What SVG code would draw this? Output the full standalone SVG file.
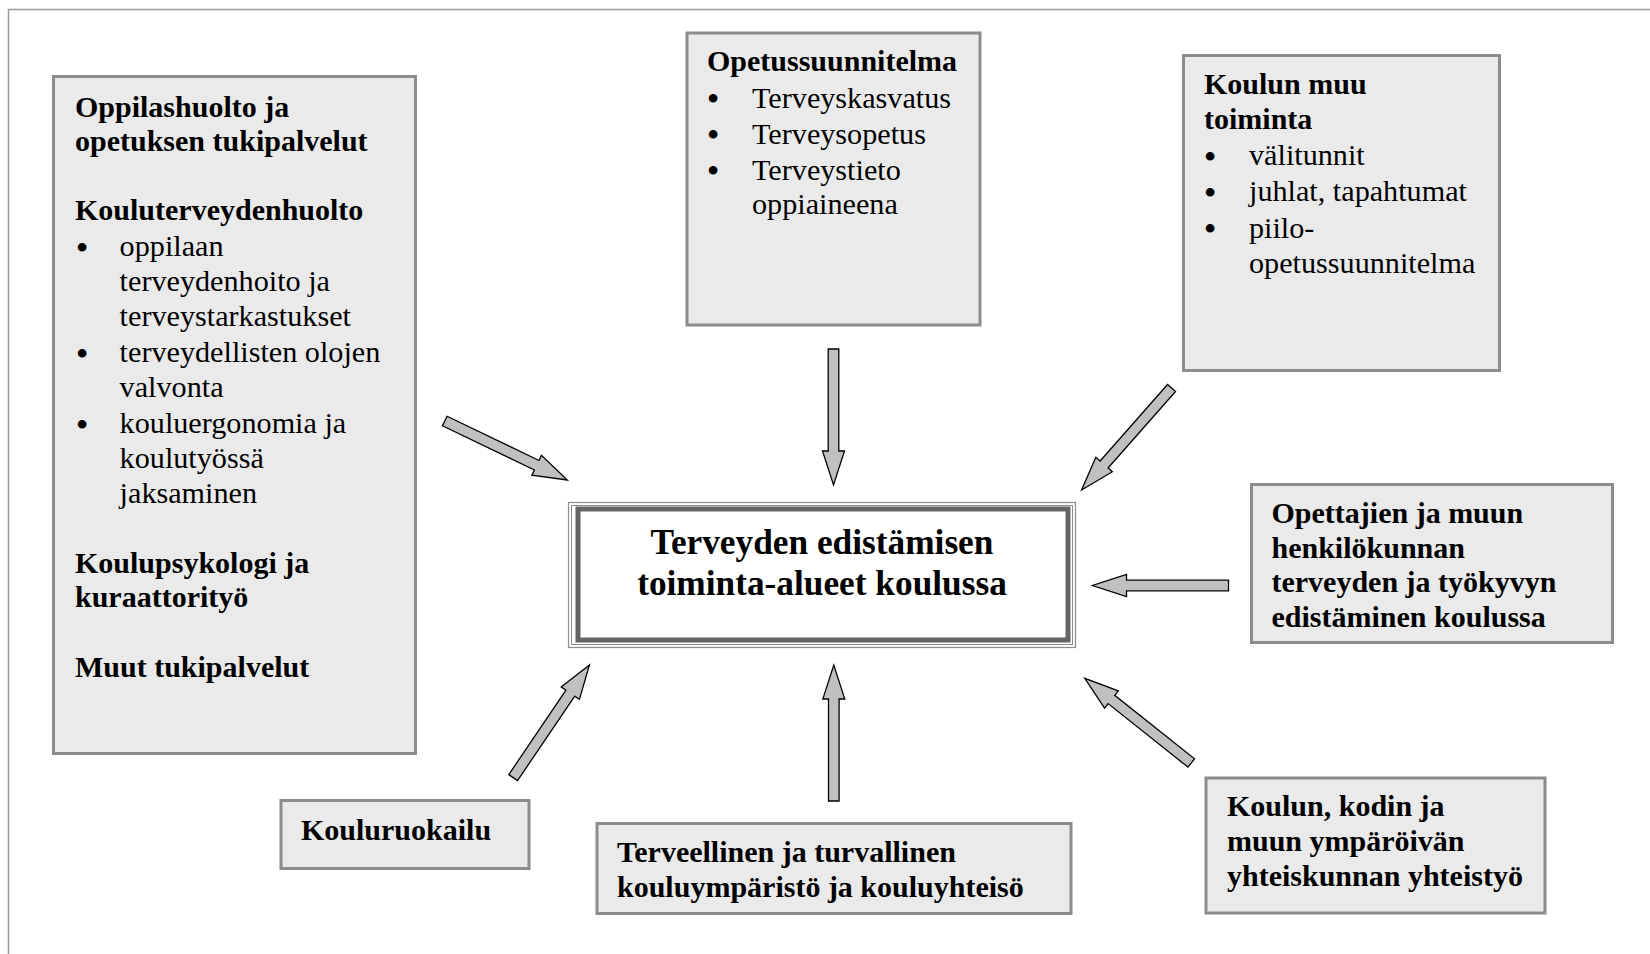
<svg xmlns="http://www.w3.org/2000/svg" xmlns:xlink="http://www.w3.org/1999/xlink" width="1650" height="954" viewBox="0 0 1650 954">
<style>
.box{fill:#eaeaea;stroke:#8c8c8c;stroke-width:3}
.t{font-family:"Liberation Serif","Times New Roman",serif;font-size:30.2px;fill:#000}
.b{font-weight:bold;font-size:30px}
.title{font-family:"Liberation Serif","Times New Roman",serif;font-size:35.3px;font-weight:bold;fill:#000;text-anchor:middle}
.bul{font-size:32px;font-weight:bold;text-anchor:middle}
.arr{fill:#c0c0c0;stroke:#000;stroke-width:1.3;stroke-linejoin:miter}
</style>
<defs>
<polygon id="arrow" class="arr" points="-136,-5.3 -34,-5.3 -34,-11 0,0 -34,11 -34,5.3 -136,5.3"/>
</defs>
<rect width="1650" height="954" fill="#fff"/>
<rect x="8.5" y="9.5" width="1700" height="1000" fill="none" stroke="#9a9a9a" stroke-width="1.5"/>

<g id="connectors">
<use xlink:href="#arrow" href="#arrow" transform="translate(567.3,480) rotate(25.7)"/>
<use xlink:href="#arrow" href="#arrow" transform="translate(833.5,485) rotate(90)"/>
<use xlink:href="#arrow" href="#arrow" transform="translate(1081.6,490) rotate(131.4)"/>
<use xlink:href="#arrow" href="#arrow" transform="translate(1092.5,585.5) rotate(180)"/>
<use xlink:href="#arrow" href="#arrow" transform="translate(1084.8,678.3) rotate(-141.5)"/>
<use xlink:href="#arrow" href="#arrow" transform="translate(833.8,665) rotate(-90)"/>
<use xlink:href="#arrow" href="#arrow" transform="translate(589.4,665) rotate(-55.9)"/>
</g>

<g id="center">
<rect x="568.5" y="502.5" width="507" height="145" fill="#fff" stroke="#8c8c8c" stroke-width="1.2"/>
<rect x="571.5" y="505.5" width="501" height="139" fill="none" stroke="#8c8c8c" stroke-width="1"/>
<rect x="578" y="509" width="490" height="131" fill="none" stroke="#646464" stroke-width="5"/>
<text class="title" x="822" y="554">Terveyden edistämisen</text>
<text class="title" x="822" y="595">toiminta-alueet koulussa</text>
</g>

<g id="oppilashuolto">
<rect class="box" x="53.5" y="76.5" width="362" height="677"/>
<text class="t b" x="75" y="117">Oppilashuolto ja</text>
<text class="t b" x="75" y="151">opetuksen tukipalvelut</text>
<text class="t b" x="75" y="220">Kouluterveydenhuolto</text>
<text class="t"><tspan class="bul" x="82" y="257.5">•</tspan><tspan x="119.6" y="256">oppilaan</tspan></text>
<text class="t" x="119.6" y="291">terveydenhoito ja</text>
<text class="t" x="119.6" y="326">terveystarkastukset</text>
<text class="t"><tspan class="bul" x="82" y="363.5">•</tspan><tspan x="119.6" y="362">terveydellisten olojen</tspan></text>
<text class="t" x="119.6" y="397">valvonta</text>
<text class="t"><tspan class="bul" x="82" y="434.5">•</tspan><tspan x="119.6" y="433">kouluergonomia ja</tspan></text>
<text class="t" x="119.6" y="468">koulutyössä</text>
<text class="t" x="119.6" y="503">jaksaminen</text>
<text class="t b" x="75" y="573">Koulupsykologi ja</text>
<text class="t b" x="75" y="607">kuraattorityö</text>
<text class="t b" x="75" y="677">Muut tukipalvelut</text>
</g>

<g id="opetussuunnitelma">
<rect class="box" x="687" y="33" width="293" height="292"/>
<text class="t b" x="707" y="71">Opetussuunnitelma</text>
<text class="t"><tspan class="bul" x="713" y="109">•</tspan><tspan x="752" y="107.5">Terveyskasvatus</tspan></text>
<text class="t"><tspan class="bul" x="713" y="145">•</tspan><tspan x="752" y="143.5">Terveysopetus</tspan></text>
<text class="t"><tspan class="bul" x="713" y="181">•</tspan><tspan x="752" y="179.5">Terveystieto</tspan></text>
<text class="t" x="752" y="213.5">oppiaineena</text>
</g>

<g id="koulun-muu-toiminta">
<rect class="box" x="1183.5" y="55.5" width="316" height="315"/>
<text class="t b" x="1204" y="93.5">Koulun muu</text>
<text class="t b" x="1204" y="128.5">toiminta</text>
<text class="t"><tspan class="bul" x="1210" y="166.5">•</tspan><tspan x="1249" y="165">välitunnit</tspan></text>
<text class="t"><tspan class="bul" x="1210" y="202.5">•</tspan><tspan x="1249" y="201">juhlat, tapahtumat</tspan></text>
<text class="t"><tspan class="bul" x="1210" y="239">•</tspan><tspan x="1249" y="237.5">piilo-</tspan></text>
<text class="t" x="1249" y="273">opetussuunnitelma</text>
</g>

<g id="opettajien">
<rect class="box" x="1251.5" y="484.5" width="361" height="158"/>
<text class="t b" x="1271.5" y="522.5">Opettajien ja muun</text>
<text class="t b" x="1271.5" y="557.5">henkilökunnan</text>
<text class="t b" x="1271.5" y="592">terveyden ja työkyvyn</text>
<text class="t b" x="1271.5" y="627">edistäminen koulussa</text>
</g>

<g id="yhteistyo">
<rect class="box" x="1206" y="778" width="339" height="135"/>
<text class="t b" x="1227" y="815.5">Koulun, kodin ja</text>
<text class="t b" x="1227" y="850.5">muun ympäröivän</text>
<text class="t b" x="1227" y="886">yhteiskunnan yhteistyö</text>
</g>

<g id="kouluymparisto">
<rect class="box" x="597" y="823.5" width="474" height="90"/>
<text class="t b" x="617" y="862">Terveellinen ja turvallinen</text>
<text class="t b" x="617" y="897">kouluympäristö ja kouluyhteisö</text>
</g>

<g id="kouluruokailu">
<rect class="box" x="281" y="800.5" width="248" height="68"/>
<text class="t b" x="301" y="839.5">Kouluruokailu</text>
</g>
</svg>
